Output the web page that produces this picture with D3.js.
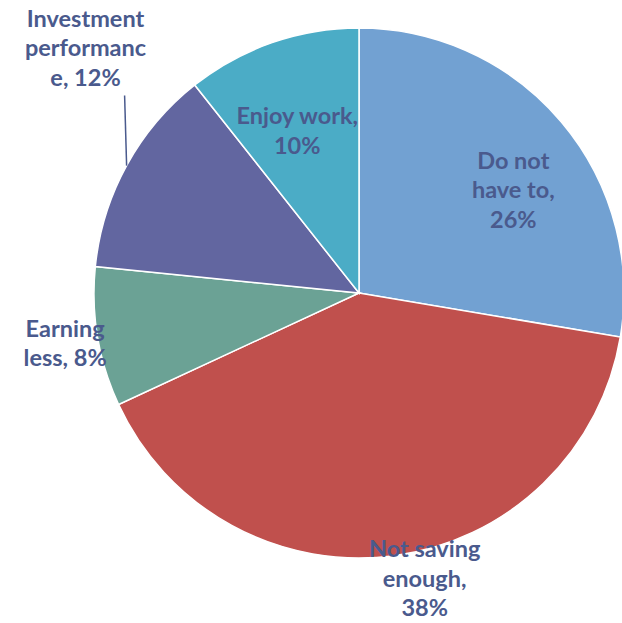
<!DOCTYPE html>
<html>
<head>
<meta charset="utf-8">
<script src="https://cdn.jsdelivr.net/npm/d3@7"></script>
<style>
  html, body { margin: 0; padding: 0; background: #fff; }
  svg { display: block; }
  text { font-family: Lato, "Open Sans", sans-serif; font-weight: 700; }
</style>
</head>
<body>
<svg id="chart" width="622" height="623"></svg>
<script>
// Reasons for retiring later, share of respondents
const categories = ["Do not have to", "Not saving enough", "Earning less", "Investment performance", "Enjoy work"];
const values = [26, 38, 8, 12, 10];
const colors = ["#72a1d2", "#c0504d", "#6ba295", "#6266a0", "#4bacc6"];
// Label text as broken over lines
const labelLines = [
  ["Do not", "have to,", "26%"],
  ["Not saving", "enough,", "38%"],
  ["Earning", "less, 8%"],
  ["Investment", "performanc", "e, 12%"],
  ["Enjoy work,", "10%"]
];
// Label placement: distance from centre (fraction of radius) and angular shift (degrees)
const labelRadius = [0.70, 1.105, 1.125, 1.385, 0.655];
const labelShift = [6.5, -5.3, -0.1, 13.1, -1.7];

const svg = d3.select("#chart");
const cx = 359, cy = 293, r = 265;
const g = svg.append("g").attr("transform", `translate(${cx},${cy})`);

const pie = d3.pie().sort(null).value(d => d.value);
const data = categories.map((c, i) => ({ name: c, value: values[i], i }));
const arcs = pie(data);
const arc = d3.arc().innerRadius(0).outerRadius(r);

g.selectAll("path.slice")
  .data(arcs)
  .join("path")
  .attr("class", "slice")
  .attr("d", arc)
  .attr("fill", d => colors[d.data.i])
  .attr("stroke", "#ffffff")
  .attr("stroke-width", 1.5);

const lineH = 29.5;
const fontSize = 23.5;
const textColor = "#4a5a8d";

arcs.forEach(a => {
  const i = a.data.i;
  const mid = (a.startAngle + a.endAngle) / 2 + labelShift[i] * Math.PI / 180;
  const lr = labelRadius[i] * r;
  const x = lr * Math.sin(mid);
  const y = -lr * Math.cos(mid);
  const lines = labelLines[i];
  const top = y - (lines.length * lineH) / 2;
  const t = g.append("text")
    .attr("text-anchor", "middle")
    .attr("fill", textColor)
    .attr("font-size", fontSize);
  lines.forEach((ln, k) => {
    t.append("tspan")
      .attr("x", x)
      .attr("y", top + lineH * k + lineH / 2)
      .attr("dy", "0.35em")
      .text(ln);
  });
  // leader line for the label set far from its slice
  if (labelRadius[i] > 1.2) {
    const m0 = (a.startAngle + a.endAngle) / 2;
    const ex = r * Math.sin(m0), ey = -r * Math.cos(m0);
    g.append("line")
      .attr("x1", ex).attr("y1", ey)
      .attr("x2", ex - 2).attr("y2", top + lines.length * lineH + 3)
      .attr("stroke", textColor)
      .attr("stroke-width", 1.5);
  }
});
</script>
</body>
</html>
